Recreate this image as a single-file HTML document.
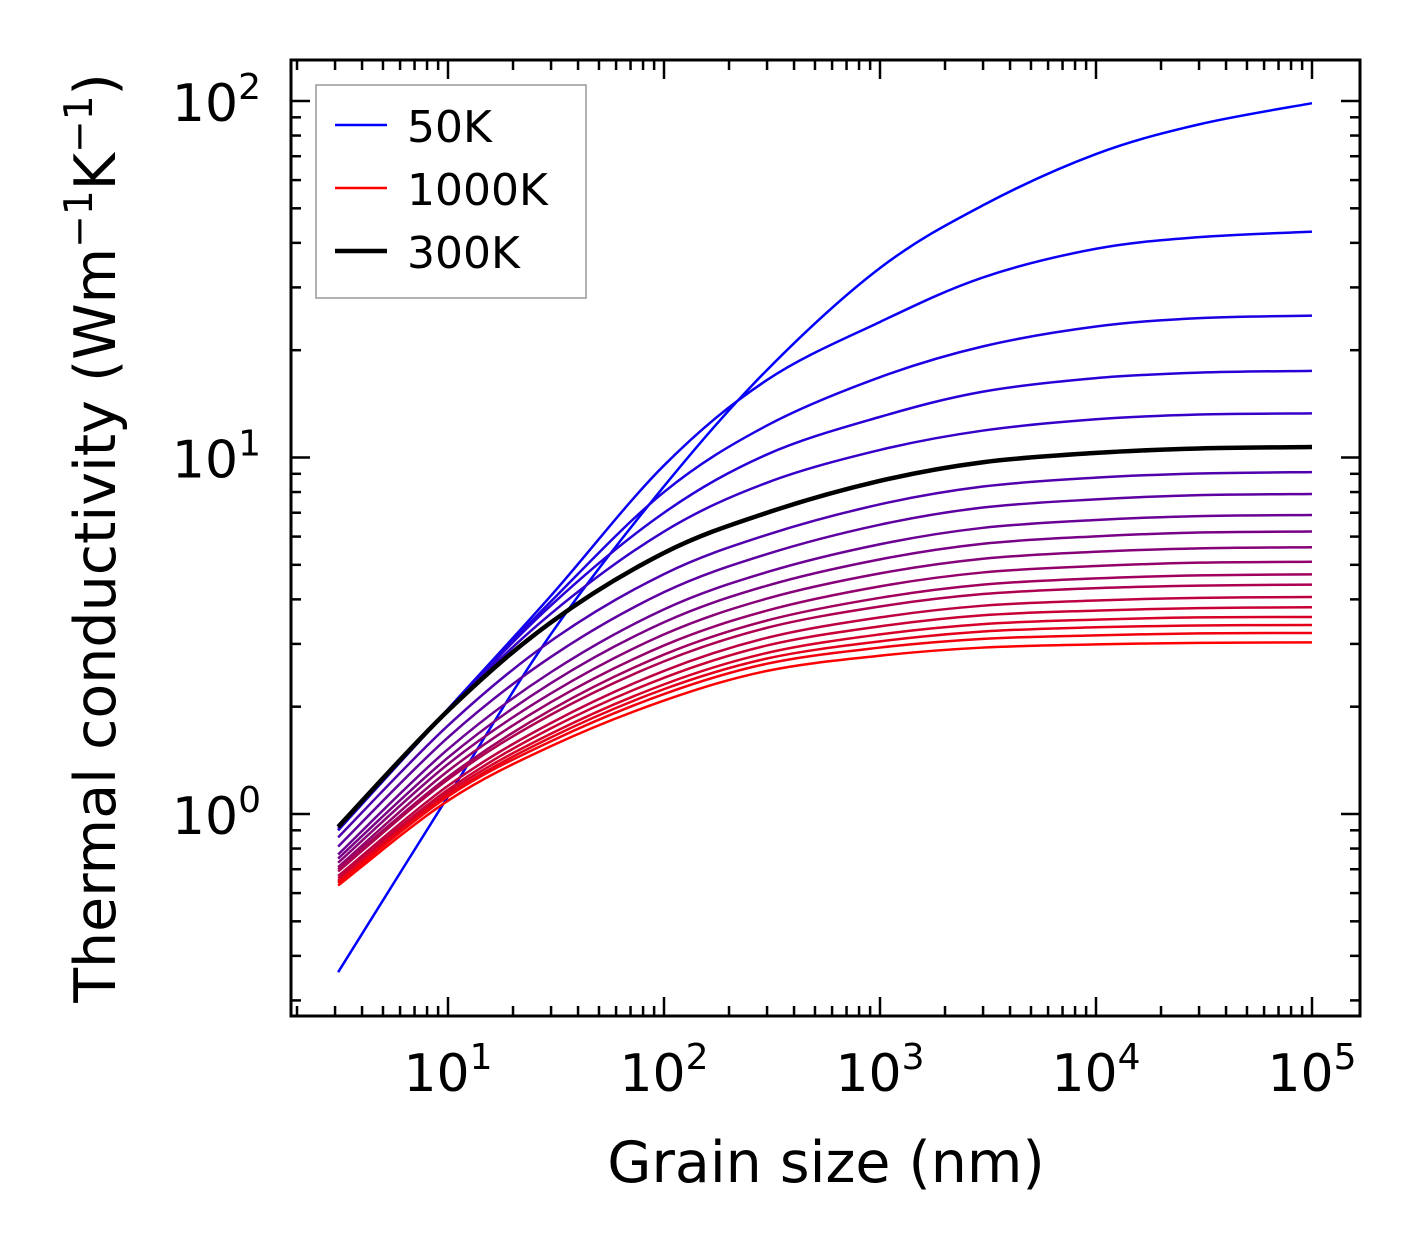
<!DOCTYPE html>
<html><head><meta charset="utf-8"><style>
body{margin:0;background:#fff}
svg text{font-family:"DejaVu Sans","Liberation Sans",sans-serif;fill:#000}
</style></head><body>
<svg id="chart" width="1421" height="1254" viewBox="0 0 1421 1254" xmlns="http://www.w3.org/2000/svg">
<g id="curves"></g>
<g id="ticks"></g>
<rect x="291" y="60" width="1069" height="956" fill="none" stroke="#000" stroke-width="3"/>
<g id="labels"></g>
<text x="826" y="1182" font-size="57" text-anchor="middle">Grain size (nm)</text>
<text transform="translate(115,538) rotate(-90)" font-size="57" text-anchor="middle">Thermal conductivity (Wm<tspan font-size="39" dy="-23">−1</tspan><tspan dy="23">K</tspan><tspan font-size="39" dy="-23">−1</tspan><tspan dy="23">)</tspan></text>
<g>
<rect x="316" y="85" width="270" height="213" fill="#fff" stroke="#999" stroke-width="1.5"/>
<line x1="335" y1="125" x2="387" y2="125" stroke="#0000ff" stroke-width="2.5"/>
<text x="407" y="142" font-size="44">50K</text>
<line x1="335" y1="188" x2="387" y2="188" stroke="#ff0000" stroke-width="2.5"/>
<text x="407" y="205" font-size="44">1000K</text>
<line x1="335" y1="251" x2="387" y2="251" stroke="#000" stroke-width="4.5"/>
<text x="407" y="268" font-size="44">300K</text>
</g>
</svg>
<script>
const grainSizes=[3.1,10,30,100,300,1000,3000,10000,30000,100000];
const temps=[50,100,150,200,250,300,350,400,450,500,550,600,650,700,750,800,850,900,950,1000];
const k50=[0.36,1.12,3.2,8.3,17.6,34,51,71,86,98.6];
const k100=[0.9,1.97,4.1,9.5,16.5,24,32,38.5,41.5,43];
const k150=[0.9,1.96,3.95,8.0,12.3,16.8,20.5,23.3,24.6,25];
const k200=[0.9,1.95,3.85,7.0,10.2,13.0,15.3,16.7,17.3,17.5];
const k250=[0.91,1.95,3.65,6.2,8.5,10.5,11.9,12.8,13.2,13.3];
const k300=[0.92,1.95,3.45,5.4,7.0,8.6,9.7,10.3,10.6,10.7];
const k350=[0.86,1.77,3.06,4.71,6.07,7.39,8.29,8.78,9.02,9.1];
const k400=[0.81,1.64,2.76,4.19,5.36,6.48,7.24,7.63,7.84,7.9];
const k450=[0.77,1.52,2.50,3.75,4.77,5.71,6.35,6.68,6.85,6.9];
const k500=[0.75,1.44,2.33,3.45,4.37,5.18,5.73,6.01,6.16,6.2];
const k550=[0.73,1.38,2.18,3.19,4.02,4.73,5.20,5.44,5.56,5.6];
const k600=[0.71,1.32,2.06,2.97,3.72,4.35,4.76,4.96,5.07,5.1];
const k650=[0.70,1.27,1.96,2.80,3.49,4.04,4.40,4.58,4.67,4.7];
const k700=[0.69,1.25,1.90,2.68,3.33,3.82,4.14,4.30,4.37,4.4];
const k750=[0.67,1.20,1.80,2.52,3.12,3.56,3.84,3.97,4.04,4.06];
const k800=[0.66,1.17,1.74,2.41,2.97,3.36,3.61,3.72,3.78,3.8];
const k850=[0.65,1.15,1.68,2.31,2.83,3.19,3.41,3.51,3.56,3.57];
const k900=[0.645,1.13,1.64,2.24,2.73,3.05,3.25,3.34,3.38,3.39];
const k950=[0.64,1.12,1.60,2.17,2.64,2.93,3.10,3.17,3.21,3.22];
const k1000=[0.63,1.09,1.55,2.08,2.52,2.78,2.93,2.99,3.02,3.03];
const series=[k50,k100,k150,k200,k250,k300,k350,k400,k450,k500,k550,k600,k650,k700,k750,k800,k850,k900,k950,k1000];
const xTickLabels=["1","2","3","4","5"];
const yTickLabels=["0","1","2"];

const NS="http://www.w3.org/2000/svg";
const X=v=>448+(Math.log10(v)-1)*216;
const Y=v=>814-Math.log10(v)*356.5;
function mk(tag,attrs,parent){const e=document.createElementNS(NS,tag);for(const k in attrs)e.setAttribute(k,attrs[k]);parent.appendChild(e);return e;}
const cg=document.getElementById('curves');
function pathFor(vals){
  const p=grainSizes.map((g,i)=>[X(g),Y(vals[i])]);
  let d=`M${p[0][0]},${p[0][1]}`;
  for(let i=0;i<p.length-1;i++){
    const p0=p[Math.max(0,i-1)],p1=p[i],p2=p[i+1],p3=p[Math.min(p.length-1,i+2)];
    const c1=[p1[0]+(p2[0]-p0[0])/6,p1[1]+(p2[1]-p0[1])/6];
    const c2=[p2[0]-(p3[0]-p1[0])/6,p2[1]-(p3[1]-p1[1])/6];
    d+=` C${c1[0]},${c1[1]} ${c2[0]},${c2[1]} ${p2[0]},${p2[1]}`;
  }
  return d;
}
const order=series.map((s,i)=>i).filter(i=>temps[i]!==300);order.push(temps.indexOf(300));
order.forEach(i=>{
  const t=i/(series.length-1);
  const col=temps[i]===300?'#000':`rgb(${Math.round(255*t)},0,${Math.round(255*(1-t))})`;
  const el=mk('path',{d:pathFor(series[i]),fill:'none',stroke:col,'stroke-width':temps[i]===300?4.5:2.5},cg);
  
  
});
const tg=document.getElementById('ticks');
for(let e=0;e<=5;e++)for(let m=1;m<10;m++){
  const v=m*Math.pow(10,e);const x=X(v);if(x<292||x>1359)continue;
  const L=m===1?19:10;
  const a=mk('line',{x1:x,x2:x,y1:1016,y2:1016-L,stroke:'#000','stroke-width':2.5},tg);
  
  
  const b=mk('line',{x1:x,x2:x,y1:60,y2:60+L,stroke:'#000','stroke-width':2.5},tg);
  
  
}
for(let e=-1;e<=2;e++)for(let m=1;m<10;m++){
  const v=m*Math.pow(10,e);const y=Y(v);if(y<61||y>1015)continue;
  const L=m===1?19:10;
  const a=mk('line',{x1:291,x2:291+L,y1:y,y2:y,stroke:'#000','stroke-width':2.5},tg);
  
  
  const b=mk('line',{x1:1360,x2:1360-L,y1:y,y2:y,stroke:'#000','stroke-width':2.5},tg);
  
  
}
const lg=document.getElementById('labels');
xTickLabels.forEach(s=>{
  const x=X(Math.pow(10,+s));
  const t=mk('text',{x:x,y:1091,'font-size':52,'text-anchor':'middle'},lg);
  
  
  t.innerHTML='10<tspan font-size="36" dy="-22">'+s+'</tspan>';
});
yTickLabels.forEach(s=>{
  const y=Y(Math.pow(10,+s));
  const t=mk('text',{x:261,y:y+20,'font-size':52,'text-anchor':'end'},lg);
  
  
  t.innerHTML='10<tspan font-size="36" dy="-22">'+s+'</tspan>';
});
</script>
</body></html>
